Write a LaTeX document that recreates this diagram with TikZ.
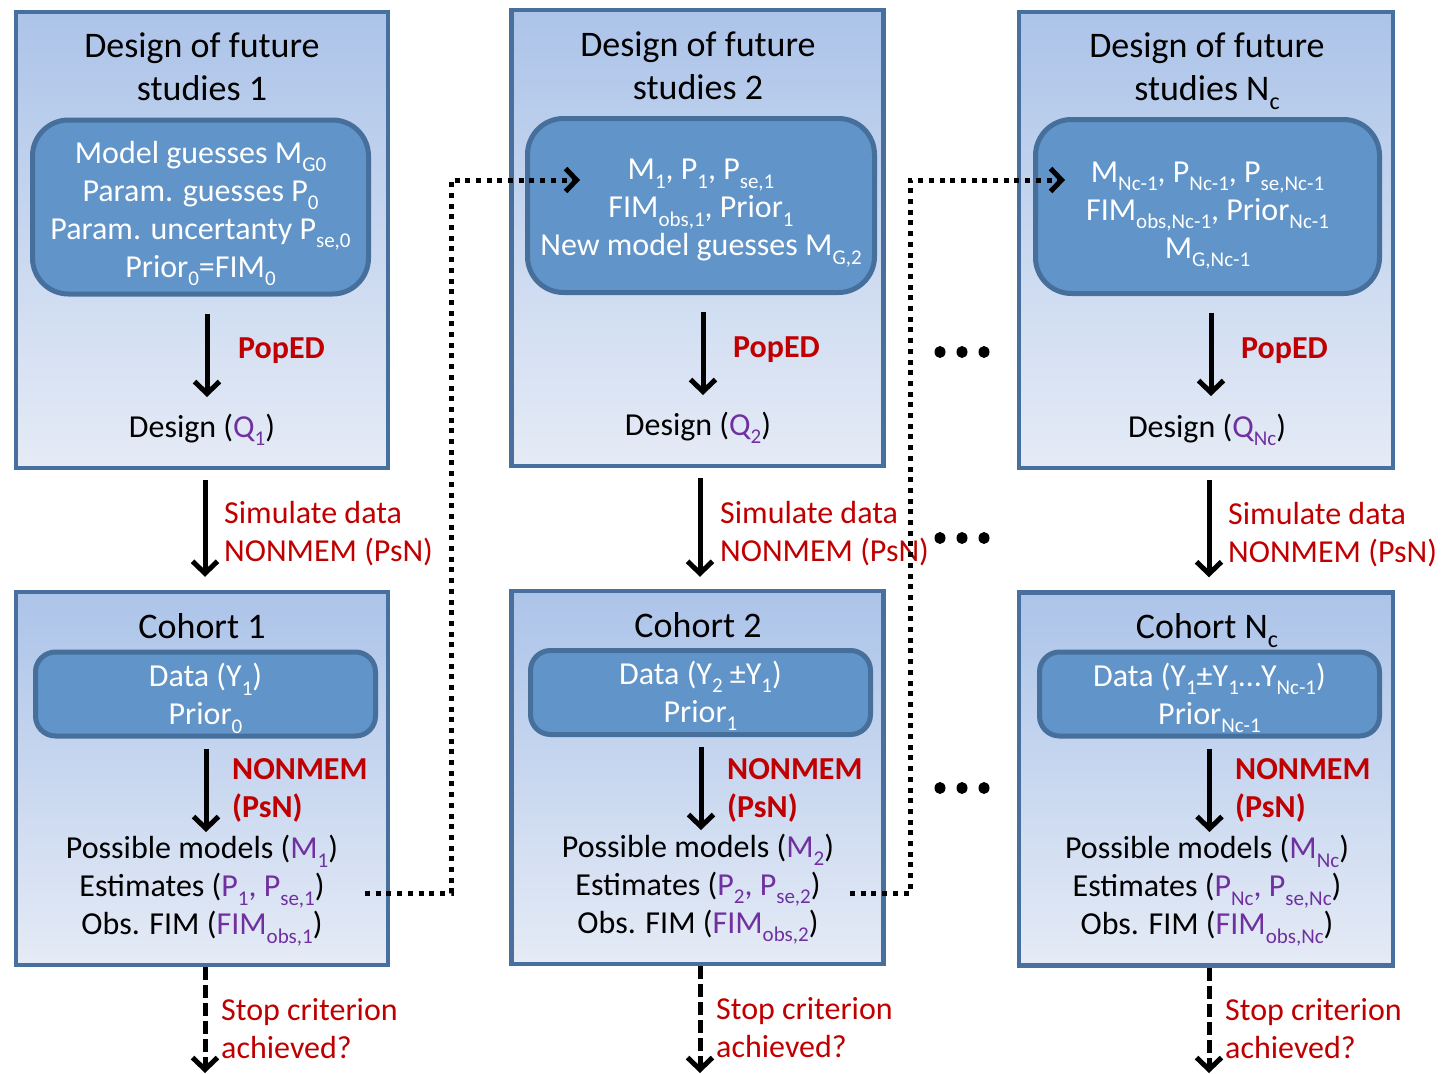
\documentclass[tikz,border=0pt]{standalone}
\usepackage{fontspec}
\setmainfont{Carlito}
\usetikzlibrary{arrows.meta}

\definecolor{boxtop}{RGB}{172,196,233}
\definecolor{boxbot}{RGB}{229,235,246}
\definecolor{boxline}{RGB}{72,112,158}
\definecolor{innerfill}{RGB}{97,148,200}
\definecolor{innerline}{RGB}{70,111,155}
\definecolor{redtxt}{RGB}{192,0,0}
\definecolor{purtxt}{RGB}{112,48,160}

% lowered indices for body text and titles
\newcommand\lo[1]{\raisebox{-0.26em}{\fontsize{21}{21}\selectfont #1}}
\newcommand\lot[1]{\raisebox{-0.26em}{\fontsize{24}{24}\selectfont #1}}
\newcommand\pur[1]{\textcolor{purtxt}{#1}}
\newcommand\bodyfont{\fontsize{32}{38}\selectfont}
\newcommand\titlefont{\fontsize{36}{43}\selectfont}

\begin{document}
\begin{tikzpicture}[x=1pt, y=-1pt,
  panel/.style={draw=boxline, line width=4.5pt, top color=boxtop, bottom color=boxbot,
    inner sep=0, minimum width=372pt},
  designpanel/.style={panel, minimum height=456pt},
  cohortpanel/.style={panel, minimum height=373pt},
  innerbox/.style={draw=innerline, line width=5pt, fill=innerfill, inner sep=0},
  designinner/.style={innerbox, rounded corners=36pt, minimum height=174pt},
  datainner/.style={innerbox, rounded corners=20pt, minimum width=340pt, minimum height=84pt},
  innertext/.style={font=\bodyfont, text=white, align=center, inner sep=0},
  titletext/.style={font=\titlefont, align=center, inner sep=0, anchor=base},
  bodytext/.style={font=\bodyfont, align=center, inner sep=0},
  tooltext/.style={font=\bodyfont\bfseries, text=redtxt, align=left, inner sep=0, anchor=west},
  notetext/.style={font=\bodyfont, text=redtxt, align=left, inner sep=0, anchor=west},
  flow/.style={line width=5pt, -{Straight Barb[length=12pt, width=25pt]}},
  stoplink/.style={flow, dash pattern=on 13pt off 5pt},
  dotlink/.style={line width=5pt, dash pattern=on 5pt off 5.7pt,
    -{Straight Barb[length=11pt, width=23pt]}},
]
\useasboundingbox (0,0) rectangle (1452,1074);
\fill[white] (0,0) rectangle (1452,1074);

% ---------- panels ----------
\node[designpanel] (D1) at (202,240) {};
\node[designpanel] (D2) at (697.5,238) {};
\node[designpanel, minimum width=374pt] (D3) at (1206,240) {};
\node[cohortpanel] (C1) at (202,778.5) {};
\node[cohortpanel] (C2) at (697.5,777.5) {};
\node[cohortpanel, minimum width=374pt] (C3) at (1206,779) {};

% ---------- design of future studies ----------
\node[titletext] (T1) at (202,100) {Design of future\\studies 1};
\node[titletext] (T2) at (698,99) {Design of future\\studies 2};
\node[titletext] (T3) at (1207,100) {Design of future\\studies N\lot{c}};

\node[designinner, minimum width=336pt] (I1) at (200.5,207) {};
\node[designinner, minimum width=347pt] (I2) at (701,205.5) {};
\node[designinner, minimum width=344pt] (I3) at (1207.5,206.5) {};
\node[innertext] (I1t) at ([yshift=-6.5pt]I1.center)
  {Model guesses M\lo{G0}\\Param. guesses P\lo{0}\\Param. uncertanty P\lo{se,0}\\Prior\lo{0}=FIM\lo{0}};
\node[innertext] (I2t) at ([yshift=-7.5pt]I2.center)
  {M\lo{1}, P\lo{1}, P\lo{se,1}\\FIM\lo{obs,1}, Prior\lo{1}\\New model guesses M\lo{G,2}};
\node[innertext] (I3t) at ([yshift=-9pt]I3.center)
  {M\lo{Nc-1}, P\lo{Nc-1}, P\lo{se,Nc-1}\\FIM\lo{obs,Nc-1}, Prior\lo{Nc-1}\\M\lo{G,Nc-1}};

\node[tooltext] (E1) at (238,351) {PopED};
\node[tooltext] (E2) at (733,350) {PopED};
\node[tooltext] (E3) at (1241,351) {PopED};

\node[bodytext, anchor=base] (Q1) at (202,437.5) {Design (\pur{Q\lo{1}})};
\node[bodytext, anchor=base] (Q2) at (698,435.5) {Design (\pur{Q\lo{2}})};
\node[bodytext, anchor=base] (Q3) at (1207,437.5) {Design (\pur{Q\lo{Nc}})};

% ---------- simulation step ----------
\node[notetext] (S1) at (224,533.5) {Simulate data\\NONMEM (PsN)};
\node[notetext] (S2) at (720,533.5) {Simulate data\\NONMEM (PsN)};
\node[notetext] (S3) at (1228,534.5) {Simulate data\\NONMEM (PsN)};

% ---------- cohorts ----------
\node[titletext] (K1) at (202,638.5) {Cohort 1};
\node[titletext] (K2) at (698,637.5) {Cohort 2};
\node[titletext] (K3) at (1207,638.5) {Cohort N\lot{c}};

\node[datainner] (Y1) at (205.5,694) {};
\node[datainner] (Y2) at (700.5,692.5) {};
\node[datainner] (Y3) at (1209.5,694) {};
\node[innertext] (Y1t) at ([yshift=-4.5pt]Y1.center) {Data (Y\lo{1})\\Prior\lo{0}};
\node[innertext] (Y2t) at ([yshift=-3.5pt]Y2.center) {Data (Y\lo{2} ±Y\lo{1})\\Prior\lo{1}};
\node[innertext] (Y3t) at ([yshift=-4pt]Y3.center) {Data (Y\lo{1}±Y\lo{1}…Y\lo{Nc-1})\\Prior\lo{Nc-1}};

\node[tooltext] (N1) at (232,790) {NONMEM\\(PsN)};
\node[tooltext] (N2) at (727,790) {NONMEM\\(PsN)};
\node[tooltext] (N3) at (1235,790) {NONMEM\\(PsN)};

\node[bodytext] (R1) at (202,890.5)
  {Possible models (\pur{M\lo{1}})\\Estimates (\pur{P\lo{1}, P\lo{se,1}})\\Obs. FIM (\pur{FIM\lo{obs,1}})};
\node[bodytext] (R2) at (698,889)
  {Possible models (\pur{M\lo{2}})\\Estimates (\pur{P\lo{2}, P\lo{se,2}})\\Obs. FIM (\pur{FIM\lo{obs,2}})};
\node[bodytext] (R3) at (1207,890.5)
  {Possible models (\pur{M\lo{Nc}})\\Estimates (\pur{P\lo{Nc}, P\lo{se,Nc}})\\Obs. FIM (\pur{FIM\lo{obs,Nc}})};

\node[notetext] (X1) at (221,1029) {Stop criterion\\achieved?};
\node[notetext] (X2) at (716,1027.5) {Stop criterion\\achieved?};
\node[notetext] (X3) at (1225,1029) {Stop criterion\\achieved?};

% ---------- arrows inside the panels ----------
\coordinate (P1e) at (207,397);
\coordinate (P2e) at (703,395);
\coordinate (P3e) at (1211,396);
\draw[flow] ([yshift=-17pt]I1.south -| P1e) -- (P1e);
\draw[flow] ([yshift=-17pt]I2.south -| P2e) -- (P2e);
\draw[flow] ([yshift=-17pt]I3.south -| P3e) -- (P3e);

\coordinate (M1e) at (206,832);
\coordinate (M2e) at (701,830);
\coordinate (M3e) at (1209.5,832);
\draw[flow] ([yshift=-10pt]Y1.south -| M1e) -- (M1e);
\draw[flow] ([yshift=-10pt]Y2.south -| M2e) -- (M2e);
\draw[flow] ([yshift=-10pt]Y3.south -| M3e) -- (M3e);

% ---------- arrows between panels ----------
\draw[flow] ([xshift=3pt,yshift=-10pt]D1.south) -- ([xshift=3pt,yshift=13pt]C1.north);
\draw[flow] ([xshift=2.5pt,yshift=-10pt]D2.south) -- ([xshift=2.5pt,yshift=12pt]C2.north);
\draw[flow] ([xshift=3pt,yshift=-10pt]D3.south) -- ([xshift=3pt,yshift=13pt]C3.north);

\coordinate (B1) at (205,1073);
\coordinate (B2) at (700,1073);
\coordinate (B3) at (1209,1073);
\draw[stoplink] (C1.south -| B1) -- (B1);
\draw[stoplink] (C2.south -| B2) -- (B2);
\draw[stoplink] (C3.south -| B3) -- (B3);

% ---------- results fed into the next design ----------
\coordinate (L1s) at (365,893);
\coordinate (L1e) at (580,180);
\coordinate (L2s) at (850,893);
\coordinate (L2e) at (1065,180);
\draw[dotlink] (L1s) -- ++(86,0) |- (L1e);
\draw[dotlink] (L2s) -- ++(60,0) |- (L2e);

% ---------- ellipses between cohorts ----------
\foreach \y in {352,538,788}
  \foreach \x in {940,962,984}
    \fill (\x,\y) ellipse [x radius=5.5pt, y radius=6pt];
\end{tikzpicture}
\end{document}
